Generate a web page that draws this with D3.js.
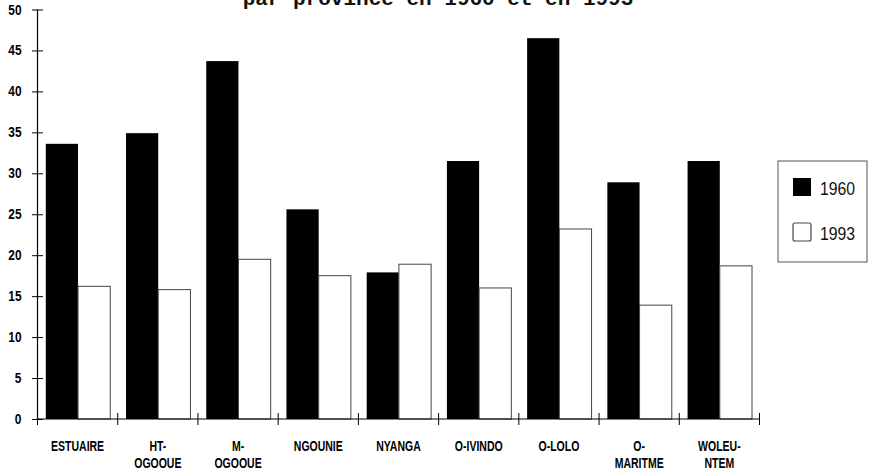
<!DOCTYPE html>
<html>
<head>
<meta charset="utf-8">
<script src="https://cdn.jsdelivr.net/npm/d3@7"></script>
<style>
  html, body { margin: 0; padding: 0; background: #fff; }
  svg { display: block; }
</style>
</head>
<body>
<div id="chart"></div>
<script>
// ---- data ----
const categories = ["ESTUAIRE", "HT-OGOOUE", "M-OGOOUE", "NGOUNIE", "NYANGA", "O-IVINDO", "O-LOLO", "O-MARITME", "WOLEU-NTEM"];
const categoryLabels = [["ESTUAIRE"], ["HT-", "OGOOUE"], ["M-", "OGOOUE"], ["NGOUNIE"], ["NYANGA"], ["O-IVINDO"], ["O-LOLO"], ["O-", "MARITME"], ["WOLEU-", "NTEM"]];
const seriesNames = ["1960", "1993"];
const values1960 = [33.6, 34.9, 43.7, 25.6, 17.9, 31.5, 46.5, 28.9, 31.5];
const values1993 = [16.2, 15.8, 19.5, 17.5, 18.9, 16.0, 23.2, 13.9, 18.7];
const yTicks = [0, 5, 10, 15, 20, 25, 30, 35, 40, 45, 50];
const titleText = "par province en 1960 et en 1993";

// ---- layout ----
const W = 870, H = 472;
const svg = d3.select("#chart").append("svg").attr("width", W).attr("height", H);

const x0 = 37.5, x1 = 759.5, yBase = 419, yTop = 9.5;
const x = d3.scaleBand().domain(categories).range([x0, x1]).paddingInner(0).paddingOuter(0);
const xs = d3.scaleBand().domain(seriesNames).range([8.3, x.bandwidth() - 7.5]).padding(0);
const y = d3.scaleLinear().domain([0, 50]).range([yBase, yTop]);

const sans = "'Liberation Sans Narrow', 'Arial Narrow', 'Liberation Sans', Arial, sans-serif";

// title (second line, cut at top of image as in the original)
svg.append("text")
  .attr("x", 438).attr("y", 4.5)
  .attr("text-anchor", "middle")
  .attr("font-family", "'Liberation Mono', 'Courier New', monospace")
  .attr("font-weight", "bold")
  .attr("font-size", 21)
  .attr("fill", "#111")
  .text(titleText);

// bars
const rows = categories.map((c, i) => ({ c, v: [values1960[i], values1993[i]] }));
const g = svg.append("g");
rows.forEach(r => {
  seriesNames.forEach((s, j) => {
    const v = r.v[j];
    g.append("rect")
      .attr("x", x(r.c) + xs(s))
      .attr("y", y(v))
      .attr("width", xs.bandwidth())
      .attr("height", y(0) - y(v))
      .attr("fill", j === 0 ? "#000" : "#fff")
      .attr("stroke", j === 0 ? "none" : "#444")
      .attr("stroke-width", 1);
  });
});

// y axis (ticks via d3 axis, labels condensed)
const yAxis = d3.axisLeft(y).tickValues(yTicks).tickSize(0).tickFormat("");
const gy = svg.append("g").attr("transform", `translate(${x0},0)`).call(yAxis);
gy.select(".domain").remove();
gy.selectAll(".tick").append("line")
  .attr("x1", -5.5).attr("x2", 5.5)
  .attr("stroke", "#000").attr("stroke-width", 1);
svg.append("g").selectAll("text").data(yTicks).join("text")
  .attr("transform", d => `translate(21.5,${y(d) + 5}) scale(0.85,1)`)
  .attr("text-anchor", "end")
  .attr("font-family", sans)
  .attr("font-weight", "bold")
  .attr("font-size", 14)
  .attr("fill", "#000")
  .text(d => d);
svg.append("line")
  .attr("x1", x0).attr("x2", x0)
  .attr("y1", y(50)).attr("y2", y(0))
  .attr("stroke", "#000").attr("stroke-width", 1.2);

// x axis
svg.append("line")
  .attr("x1", x0).attr("x2", x1)
  .attr("y1", yBase).attr("y2", yBase)
  .attr("stroke", "#000").attr("stroke-width", 1.2);
const boundaries = categories.map(c => x(c) + x.bandwidth()).concat([x(categories[0])]);
svg.append("g").selectAll("line").data(boundaries).join("line")
  .attr("x1", d => d).attr("x2", d => d)
  .attr("y1", yBase - 6).attr("y2", yBase + 6)
  .attr("stroke", "#000").attr("stroke-width", 1);

const gl = svg.append("g");
categories.forEach((c, i) => {
  const cx = x(c) + x.bandwidth() / 2;
  const t = gl.append("text")
    .attr("transform", `translate(${cx},451) scale(0.75,1)`)
    .attr("text-anchor", "middle")
    .attr("font-family", sans)
    .attr("font-weight", "bold")
    .attr("font-size", 14)
    .attr("fill", "#000");
  categoryLabels[i].forEach((line, k) => {
    t.append("tspan")
      .attr("x", 0)
      .attr("dy", k === 0 ? 0 : 17)
      .text(line);
  });
});

// legend
const lg = svg.append("g");
lg.append("rect")
  .attr("x", 778).attr("y", 161).attr("width", 89).attr("height", 101)
  .attr("fill", "#fff").attr("stroke", "#555").attr("stroke-width", 1);
seriesNames.forEach((s, j) => {
  const yy = 178 + j * 45;
  lg.append("rect")
    .attr("x", 793).attr("y", yy).attr("width", 18).attr("height", 18)
    .attr("rx", j === 0 ? 0 : 2)
    .attr("fill", j === 0 ? "#000" : "#fff")
    .attr("stroke", j === 0 ? "none" : "#444").attr("stroke-width", 1.2);
  lg.append("text")
    .attr("transform", `translate(820,${yy + 17}) scale(0.83,1)`)
    .attr("font-family", sans)
    .attr("font-size", 19)
    .attr("fill", "#111")
    .text(s);
});
</script>
</body>
</html>
